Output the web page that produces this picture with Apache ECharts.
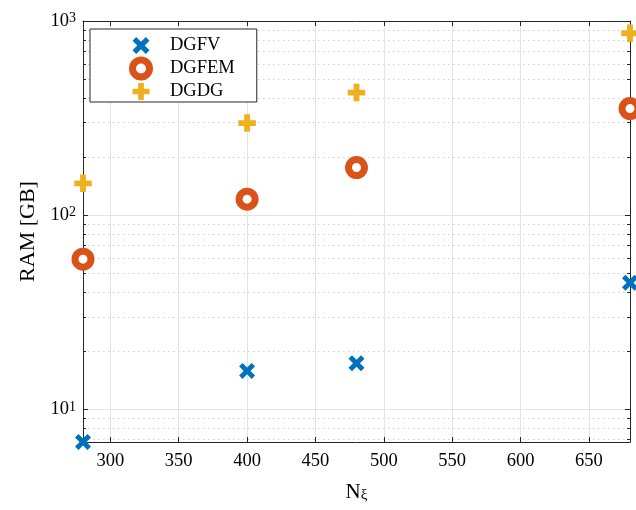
<!DOCTYPE html>
<html><head><meta charset="utf-8">
<script src="https://cdn.jsdelivr.net/npm/echarts@6/dist/echarts.min.js"></script>
<style>html,body{margin:0;padding:0;background:#fff}#c{width:636px;height:510px}</style>
</head><body><div id="c"></div>
<script>
// ---- data ----
const nXi   = [280, 400, 480, 680];
const dgfv  = [6.8, 15.8, 17.3, 44.9];
const dgfem = [59.4, 121, 176, 354];
const dgdg  = [146, 298, 428, 865];
const seriesNames = ['DGFV', 'DGFEM', 'DGDG'];
const xTicks = [300, 350, 400, 450, 500, 550, 600, 650];
const yMajor = [10, 100, 1000];
const yMinor = [7, 8, 9, 20, 30, 40, 50, 60, 70, 80, 90, 200, 300, 400, 500, 600, 700, 800, 900];
const xMin = 280, xMax = 680, yMin = 6.8, yMax = 1000;

const F = 'Liberation Serif';
const AX = '#262626';
const pairs = ys => nXi.map((x, i) => [x, ys[i]]);
const plusPath = 'path://M-1,-3H1V-1H3V1H1V3H-1V1H-3V-1H-1Z';
const xPath = 'path://M0,-1.3L1.7,-3L3,-1.7L1.3,0L3,1.7L1.7,3L0,1.3L-1.7,3L-3,1.7L-1.3,0L-3,-1.7L-1.7,-3Z';
const ringStyle = {color: '#ffffff', borderColor: '#D95319', borderWidth: 7, opacity: 1};

const chart = echarts.init(document.getElementById('c'), null, {renderer: 'canvas'});
const baseX = {
  type: 'value', min: xMin, max: xMax,
  axisLine: {show: true, onZero: false, lineStyle: {color: AX, width: 1}},
  axisTick: {show: true, inside: true, length: 5, customValues: xTicks, lineStyle: {color: AX}},
  splitLine: {show: false}
};
const baseY = {
  type: 'log', logBase: 10, min: yMin, max: yMax,
  axisLine: {show: false, onZero: false, lineStyle: {color: AX}},
  axisLabel: {show: false},
  splitLine: {show: false}
};
chart.setOption({
  backgroundColor: '#fff',
  animation: false,
  grid: {left: 83, right: 6, top: 21, bottom: 68, containLabel: false},
  legend: {
    data: [
      {name: seriesNames[0]},
      {name: seriesNames[1], itemStyle: ringStyle},
      {name: seriesNames[2]}
    ],
    orient: 'vertical', left: 90, top: 29,
    padding: [7, 22, 1, 39], itemGap: 1.5, itemWidth: 48, itemHeight: 17,
    backgroundColor: '#fff', borderColor: AX, borderWidth: 1,
    textStyle: {fontFamily: F, fontSize: 18.5, color: '#000'}
  },
  xAxis: [
    Object.assign({}, baseX, {
      position: 'bottom',
      name: '{n|N}{s|ξ}', nameLocation: 'middle', nameGap: 35,
      nameTextStyle: {rich: {
        n: {fontFamily: F, fontSize: 21, lineHeight: 21, verticalAlign: 'top', color: '#000'},
        s: {fontFamily: F, fontSize: 15, lineHeight: 15, padding: [12, 0, 0, 0], verticalAlign: 'bottom', color: '#000'}
      }},
      axisLabel: {show: true, customValues: xTicks, margin: 10, fontFamily: F, fontSize: 18.5, color: '#000'},
      splitLine: {show: true, lineStyle: {color: '#e3e3e3', width: 1}}
    }),
    Object.assign({}, baseX, {position: 'top', axisLabel: {show: false}})
  ],
  yAxis: [
    Object.assign({}, baseY, {
      position: 'left',
      name: 'RAM [GB]', nameLocation: 'middle', nameGap: 37, nameRotate: 90,
      nameTextStyle: {fontFamily: F, fontSize: 22, color: '#000'},
      axisLine: {show: true, onZero: false, lineStyle: {color: AX}},
      axisTick: {show: true, inside: true, length: 5, customValues: yMajor, lineStyle: {color: AX}},
      axisLabel: {
        show: true, customValues: yMajor, margin: 7,
        formatter: v => '{b|10}{s|' + Math.round(Math.log10(v)) + '}',
        rich: {
          b: {fontFamily: F, fontSize: 18.5, lineHeight: 19, verticalAlign: 'bottom', color: '#000'},
          s: {fontFamily: F, fontSize: 14, lineHeight: 14, padding: [0, 0, 10, 0], verticalAlign: 'top', color: '#000'}
        }
      },
      splitLine: {show: true, lineStyle: {color: '#e3e3e3', width: 1}}
    }),
    Object.assign({}, baseY, {
      position: 'left',
      axisTick: {show: true, inside: true, length: 3, customValues: yMinor, lineStyle: {color: AX}},
      splitLine: {show: true, lineStyle: {color: '#cfcfcf', width: 1, type: [1.5, 3.5]}}
    }),
    Object.assign({}, baseY, {
      position: 'right',
      axisLine: {show: true, onZero: false, lineStyle: {color: AX}},
      axisTick: {show: true, inside: true, length: 5, customValues: yMajor, lineStyle: {color: AX}}
    }),
    Object.assign({}, baseY, {
      position: 'right',
      axisTick: {show: true, inside: true, length: 3, customValues: yMinor, lineStyle: {color: AX}}
    })
  ],
  series: [
    {
      name: seriesNames[0], type: 'scatter', data: pairs(dgfv), clip: false, z: 5,
      symbol: xPath, symbolSize: 16,
      itemStyle: {color: '#0072BD', opacity: 1}
    },
    {
      name: seriesNames[1], type: 'scatter', data: pairs(dgfem), clip: false, z: 5,
      symbol: 'circle', symbolSize: 16,
      itemStyle: ringStyle
    },
    {
      name: seriesNames[2], type: 'scatter', data: pairs(dgdg), clip: false, z: 5,
      symbol: plusPath, symbolSize: 17.5,
      itemStyle: {color: '#EDB120', opacity: 1}
    }
  ]
});
</script>
</body></html>
